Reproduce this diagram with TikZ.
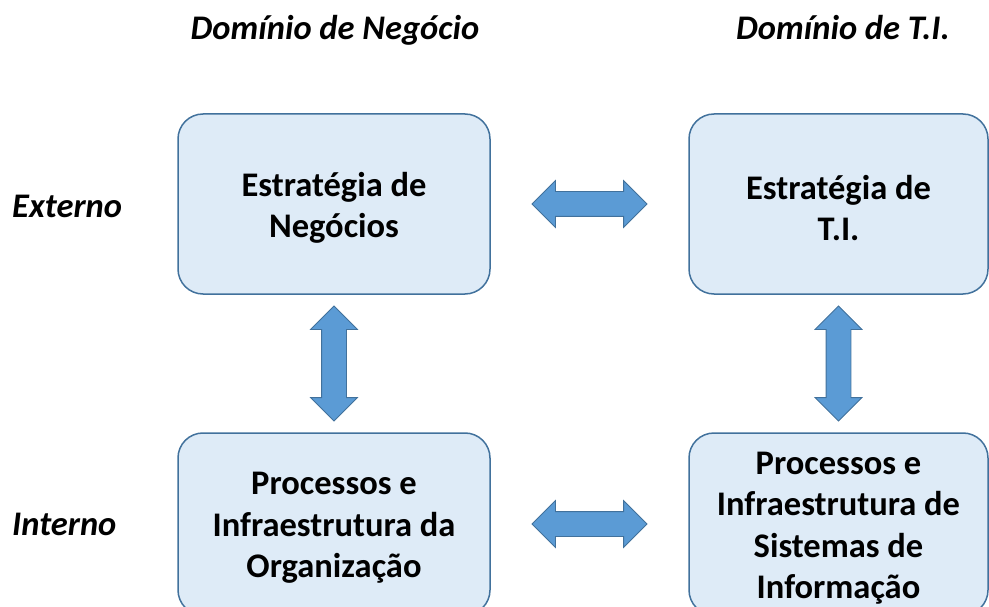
\documentclass[tikz,border=0pt]{standalone}
\usepackage{fontspec}
\setmainfont{Carlito}
\usetikzlibrary{shapes.arrows}
\usetikzlibrary{positioning}
\definecolor{boxfill}{RGB}{222,235,247}
\definecolor{boxline}{RGB}{65,113,156}
\definecolor{arrfill}{RGB}{91,155,213}
\tikzset{bloco/.style={draw=boxline, fill=boxfill, line width=1.5pt,
        rounded corners=25pt, inner sep=0pt},
    texto/.style={align=center, inner sep=0pt, yshift=-4pt,
        font=\fontsize{34.5}{41.5}\selectfont\bfseries},
    rotulo/.style={font=\fontsize{34.5}{41.5}\selectfont\bfseries\itshape, inner sep=0pt},
    seta/.style={double arrow, draw=boxline, fill=arrfill, line width=0.8pt,
        minimum height=115pt, minimum width=46pt, inner sep=12pt,
        double arrow head extend=11pt, double arrow tip angle=90}}

\begin{document}
\begin{tikzpicture}[x=1pt,y=-1pt]
    \path[use as bounding box, clip] (0,0) rectangle (989,607);

    % dominios
    \node[rotulo,anchor=base] (hdneg) at (335,40) {Domínio de Negócio};
    \node[rotulo,anchor=base] (hdti) at (843,40) {Domínio de T.I.};
    \node[rotulo,anchor=base west] (lbext) at (12,218) {Externo};
    \node[rotulo,anchor=base west] (lbint) at (12,535) {Interno};

    % blocos
    \node[bloco,minimum width=312pt,minimum height=180pt,
        label={[texto]center:Estratégia de\\Negócios}] (estneg) at (334,204) {};
    \node[bloco,minimum width=299pt,minimum height=180pt,
        label={[texto]center:Estratégia de\\T.I.}] (estti) at (838.5,204) {};
    \node[bloco,minimum width=312pt,minimum height=182pt,
        label={[texto]center:Processos e\\Infraestrutura da\\Organização}] (procorg) at (334,524) {};
    \node[bloco,minimum width=299pt,minimum height=182pt,
        label={[texto]center:Processos e\\Infraestrutura de\\Sistemas de\\Informação}] (procsi) at (838.5,524) {};

    % setas
    \path (estneg.east) -- node[seta] (s1) {} (estti.west);
    \path (procorg.east) -- node[seta] (s2) {} (procsi.west);
    \path (estneg.south) -- node[seta,shape border rotate=90] (s3) {} (procorg.north);
    \path (estti.south) -- node[seta,shape border rotate=90] (s4) {} (procsi.north);
\end{tikzpicture}
\end{document}
